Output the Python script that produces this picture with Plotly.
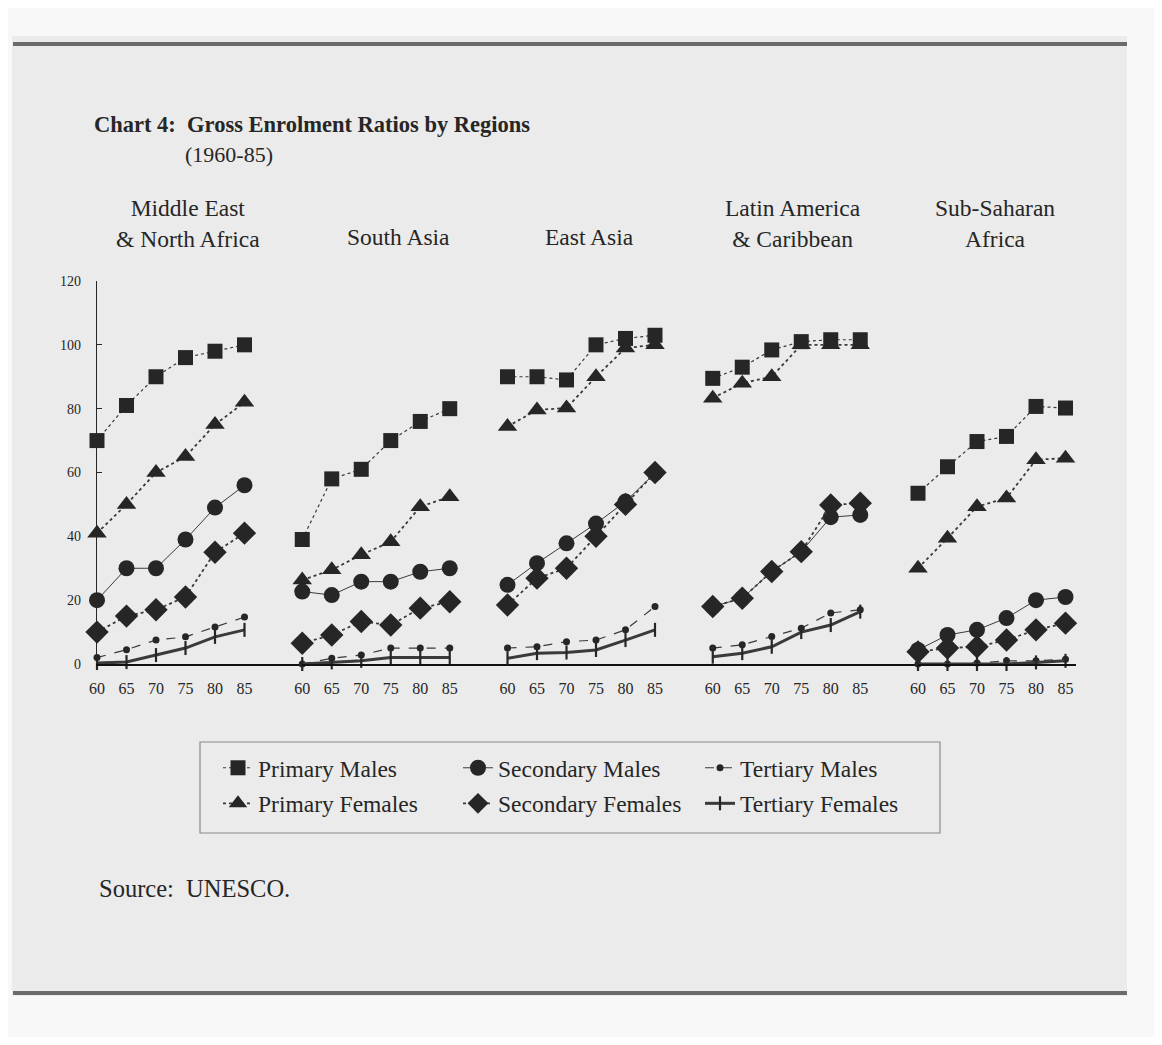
import plotly.graph_objects as go

# page is drawn inside the default 8px body margin
W, H = 1146, 1029
OFF = 8

years = [60, 65, 70, 75, 80, 85]
regions = ["Middle East<br>& North Africa", "South Asia", "East Asia",
           "Latin America<br>& Caribbean", "Sub-Saharan<br>Africa"]
series_names = ["Primary Males", "Primary Females", "Secondary Males",
                "Secondary Females", "Tertiary Males", "Tertiary Females"]

mena = {
    "Primary Males":     [70, 81, 90, 96, 98, 100],
    "Secondary Males":   [20, 30, 30, 39, 49, 56],
    "Tertiary Males":    [2, 4.5, 7.5, 8.5, 11.6, 14.7],
    "Primary Females":   [41, 50, 60, 65, 75, 82],
    "Secondary Females": [10, 15, 17, 21, 35, 41],
    "Tertiary Females":  [0.3, 0.6, 2.8, 5, 8.5, 10.7],
}
south_asia = {
    "Primary Males":     [39, 58, 61, 70, 76, 80],
    "Secondary Males":   [22.7, 21.6, 25.8, 25.8, 28.9, 30],
    "Tertiary Males":    [0, 1.8, 2.8, 5, 5, 5],
    "Primary Females":   [26.3, 29.5, 34.2, 38.3, 49.3, 52.4],
    "Secondary Females": [6.5, 9.1, 13.3, 12.2, 17.5, 19.5],
    "Tertiary Females":  [0, 0.5, 1, 2, 2, 2],
}
east_asia = {
    "Primary Males":     [90, 90, 89, 100, 102, 103],
    "Secondary Males":   [24.8, 31.6, 37.8, 44, 50.9, 59.8],
    "Tertiary Males":    [5, 5.4, 7, 7.5, 10.7, 18],
    "Primary Females":   [74.4, 79.6, 80.2, 90, 99, 100],
    "Secondary Females": [18.5, 26.9, 30, 40, 50, 60],
    "Tertiary Females":  [1.8, 3.4, 3.6, 4.4, 7.5, 10.7],
}
latin_america = {
    "Primary Males":     [89.5, 93, 98.4, 101, 101.6, 101.6],
    "Secondary Males":   [18, 20.6, 29, 35.2, 46, 46.7],
    "Tertiary Males":    [5, 6, 8.6, 11.2, 16, 17],
    "Primary Females":   [83.3, 88, 90, 100, 100, 100],
    "Secondary Females": [18, 20.6, 29, 35.2, 49.8, 50.4],
    "Tertiary Females":  [2.3, 3.4, 5.4, 10, 12.2, 16.4],
}
sub_saharan = {
    "Primary Males":     [53.5, 61.8, 69.7, 71.3, 80.7, 80.2],
    "Secondary Males":   [4.4, 9.1, 10.7, 14.4, 20, 21],
    "Tertiary Males":    [0, 0, 0.3, 1, 1, 1.5],
    "Primary Females":   [30, 39.4, 49.3, 52, 64, 64.5],
    "Secondary Females": [3.8, 5, 5.4, 7.5, 10.7, 12.8],
    "Tertiary Females":  [0, 0, 0, 0, 0.5, 1],
}
region_data = [mena, south_asia, east_asia, latin_america, sub_saharan]

y_ticks = [0, 20, 40, 60, 80, 100, 120]

# ---- styling ----
FONT = "Liberation Serif"
INK = "#262626"
LINE = "#3a3a3a"
styles = {
    "Primary Males":     dict(symbol="square", size=15, dash="dot", width=1.2, legend="legend"),
    "Primary Females":   dict(symbol="triangle-up", size=17, dash="dot", width=1.8, legend="legend"),
    "Secondary Males":   dict(symbol="circle", size=16, dash="solid", width=1.0, legend="legend2"),
    "Secondary Females": dict(symbol="diamond", size=18, dash="dot", width=1.8, legend="legend2"),
    "Tertiary Males":    dict(symbol="circle", size=7, dash="dash", width=1.2, legend="legend3"),
    "Tertiary Females":  dict(symbol="line-ns", size=10, dash="solid", width=3.0, legend="legend3"),
}


def px_x(p):
    return (p - OFF) / W


def px_y(p):
    return 1 - (p - OFF) / H


fig = go.Figure()

panel_w = 205.25
x60 = 97.0
px_per_year = 147.5 / 25
y0_px, y120_px = 664.0, 281.0

for i, data in enumerate(region_data):
    xa = "x" if i == 0 else f"x{i+1}"
    for name in series_names:
        st = styles[name]
        sym = st["symbol"]
        marker = dict(symbol=sym, size=st["size"], color=INK)
        if sym == "line-ns":
            marker["line"] = dict(color=INK, width=2.2)
        fig.add_trace(go.Scatter(
            x=years, y=data[name], mode="lines+markers", name=name,
            xaxis=xa, yaxis="y",
            line=dict(color=LINE, width=st["width"], dash=st["dash"]),
            marker=marker, cliponaxis=False,
            showlegend=(i == 0), legend=st["legend"], legendgroup=name,
        ))

layout = dict(
    width=W, height=H,
    margin=dict(l=0, r=0, t=0, b=0, pad=0),
    paper_bgcolor="#f8f8f8",
    plot_bgcolor="rgba(0,0,0,0)",
    font=dict(family=FONT, color=INK),
    showlegend=True,
    yaxis=dict(
        domain=[px_y(y0_px), px_y(y120_px)], range=[0, 120],
        tickvals=y_ticks, ticks="inside", ticklen=5, tickcolor=INK,
        showline=True, linecolor=INK, linewidth=1.2, showgrid=False,
        zeroline=False, anchor="x", ticklabelstandoff=12, automargin=False,
        tickfont=dict(size=14, family=FONT, color=INK),
    ),
)

for i in range(5):
    key = "xaxis" if i == 0 else f"xaxis{i+1}"
    start = x60 + panel_w * i
    end = start + panel_w if i < 4 else 1076
    rng_hi = 60 + (end - start) / px_per_year
    layout[key] = dict(
        domain=[px_x(start), px_x(end)], range=[60, rng_hi],
        tickvals=years, ticktext=[str(y) for y in years],
        showline=True, linecolor="#111111", linewidth=2,
        showgrid=False, zeroline=False, ticks="",
        anchor="y", ticklabelstandoff=9, automargin=False,
        tickfont=dict(size=16, family=FONT, color=INK),
    )

legend_text_x = {"legend": 258, "legend2": 498, "legend3": 740}
for key, tx in legend_text_x.items():
    layout[key] = dict(
        orientation="v", x=px_x(tx - 40), y=px_y(746), xanchor="left", yanchor="top",
        traceorder="grouped", tracegroupgap=2,
        font=dict(size=23.5, family=FONT, color=INK),
        bgcolor="rgba(0,0,0,0)", borderwidth=0,
    )

shapes = [
    dict(type="rect", xref="paper", yref="paper",
         x0=px_x(12), x1=px_x(1127), y0=px_y(996), y1=px_y(36),
         fillcolor="#ebebeb", line=dict(width=0), layer="below"),
    dict(type="line", xref="paper", yref="paper",
         x0=px_x(13), x1=px_x(1127), y0=px_y(44), y1=px_y(44),
         line=dict(color="#6b6b6b", width=4)),
    dict(type="line", xref="paper", yref="paper",
         x0=px_x(13), x1=px_x(1127), y0=px_y(993), y1=px_y(993),
         line=dict(color="#6b6b6b", width=4)),
    dict(type="rect", xref="paper", yref="paper",
         x0=px_x(200), x1=px_x(940), y0=px_y(833), y1=px_y(742),
         line=dict(color="#8a8a8a", width=1.2), fillcolor="rgba(0,0,0,0)"),
]
layout["shapes"] = shapes

annotations = [
    dict(text="<b>Chart 4:  Gross Enrolment Ratios by Regions</b>",
         x=px_x(92), y=px_y(125), xanchor="left", yanchor="middle",
         font=dict(size=22.5, family=FONT, color=INK)),
    dict(text="(1960-85)", x=px_x(183), y=px_y(155), xanchor="left", yanchor="middle",
         font=dict(size=22, family=FONT, color=INK)),
    dict(text="Source:  UNESCO.", x=px_x(97), y=px_y(888), xanchor="left", yanchor="middle",
         font=dict(size=24.5, family=FONT, color=INK)),
]
title_centers = [188, 398, 589, 793, 995]
for cx, name in zip(title_centers, regions):
    multi = "<br>" in name
    annotations.append(dict(
        text=name, x=px_x(cx), y=px_y(224 if multi else 237),
        xanchor="center", yanchor="middle",
        font=dict(size=23.5, family=FONT, color=INK), align="center",
    ))
for a in annotations:
    a.update(xref="paper", yref="paper", showarrow=False)
layout["annotations"] = annotations

fig.update_layout(**layout)
fig.write_html("out.html")
